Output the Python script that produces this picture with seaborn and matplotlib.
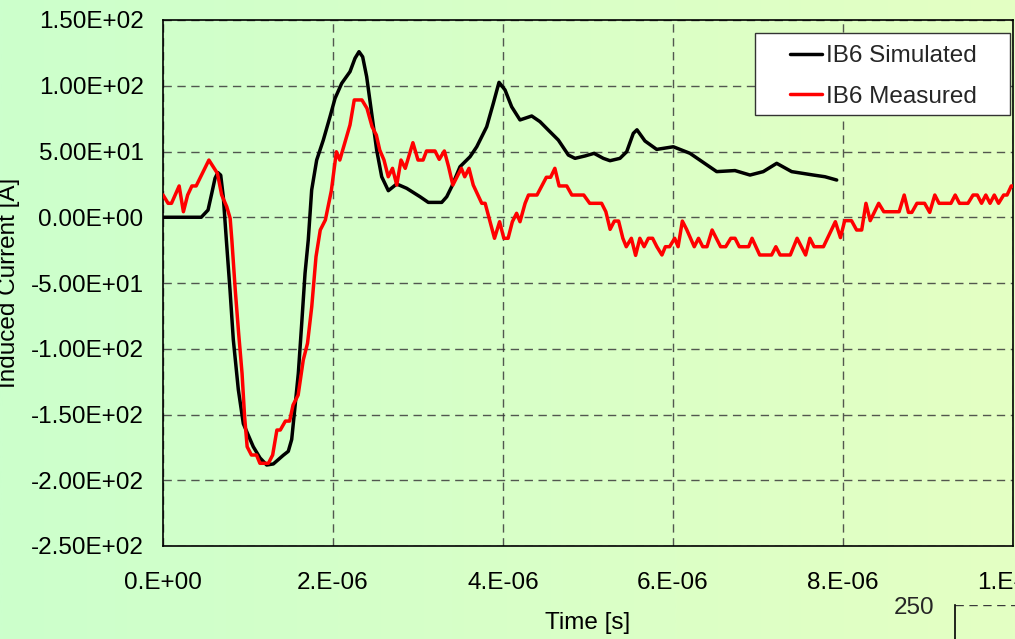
import numpy as np
import pandas as pd
import matplotlib
matplotlib.use("Agg")
import matplotlib.pyplot as plt
import seaborn as sns
from matplotlib.ticker import MultipleLocator, FixedLocator, FixedFormatter
from matplotlib.colors import LinearSegmentedColormap
from matplotlib.patches import Rectangle

# ---- data (time in microseconds, current in amperes) ----
sim_time_us = [
    0.00, 0.45, 0.53, 0.573, 0.612, 0.645, 0.679, 0.71, 0.745, 0.788,
    0.827, 0.886, 0.945, 1.062, 1.141, 1.22, 1.298, 1.415, 1.474, 1.514,
    1.553, 1.592, 1.632, 1.671, 1.709, 1.749, 1.808, 1.886, 1.965, 2.024,
    2.102, 2.20, 2.259, 2.306, 2.349, 2.396, 2.455, 2.514, 2.573, 2.651,
    2.749, 2.867, 3.024, 3.121, 3.279, 3.338, 3.396, 3.494, 3.612, 3.691,
    3.808, 3.886, 3.953, 4.024, 4.102, 4.20, 4.338, 4.435, 4.533, 4.651,
    4.769, 4.847, 4.965, 5.071, 5.18, 5.259, 5.376, 5.455, 5.533, 5.576,
    5.67, 5.808, 6.004, 6.20, 6.514, 6.729, 6.906, 7.062, 7.22, 7.396,
    7.651, 7.788, 7.926]
sim_current = [
    0.0, 0.0, 5.5, 18.0, 29.6, 34.0, 32.0, 15.0, -17.0, -55.0,
    -93.0, -131.0, -157.0, -174.5, -183.0, -188.4, -187.6, -181.0, -178.0, -169.0,
    -144.0, -118.7, -80.7, -42.6, -17.3, 20.7, 43.5, 58.7, 76.5, 90.4,
    101.8, 110.7, 120.9, 125.9, 122.0, 106.9, 79.0, 51.0, 30.8, 20.2,
    25.3, 22.0, 15.6, 11.3, 11.3, 15.6, 23.2, 38.4, 46.0, 53.6,
    68.8, 86.6, 102.6, 96.8, 84.0, 74.0, 77.0, 72.7, 66.3, 58.7,
    47.3, 44.8, 46.6, 48.6, 44.8, 43.0, 44.8, 49.8, 63.8, 66.5,
    58.0, 51.6, 53.6, 48.6, 34.7, 35.5, 32.1, 34.7, 41.0, 34.7,
    32.1, 30.8, 28.3]

meas_time_us = [
    0.00, 0.06, 0.10, 0.19, 0.24, 0.29, 0.34, 0.39, 0.54, 0.64,
    0.69, 0.75, 0.79, 0.81, 0.85, 0.89, 0.93, 0.96, 0.99, 1.04,
    1.10, 1.14, 1.24, 1.29, 1.34, 1.38, 1.44, 1.49, 1.53, 1.59,
    1.65, 1.70, 1.75, 1.80, 1.85, 1.91, 1.98, 2.04, 2.08, 2.20,
    2.25, 2.34, 2.40, 2.46, 2.51, 2.55, 2.60, 2.65, 2.70, 2.75,
    2.80, 2.85, 2.94, 3.00, 3.06, 3.10, 3.20, 3.25, 3.31, 3.36,
    3.41, 3.46, 3.51, 3.55, 3.60, 3.65, 3.75, 3.79, 3.90, 3.96,
    4.01, 4.06, 4.11, 4.16, 4.20, 4.26, 4.30, 4.40, 4.51, 4.56,
    4.61, 4.66, 4.75, 4.81, 4.95, 5.02, 5.16, 5.21, 5.26, 5.31,
    5.36, 5.41, 5.45, 5.51, 5.56, 5.61, 5.66, 5.71, 5.76, 5.81,
    5.87, 5.91, 5.96, 6.02, 6.06, 6.11, 6.16, 6.25, 6.30, 6.35,
    6.40, 6.46, 6.51, 6.56, 6.62, 6.68, 6.73, 6.78, 6.89, 6.93,
    7.02, 7.16, 7.21, 7.26, 7.38, 7.46, 7.51, 7.56, 7.61, 7.66,
    7.77, 7.91, 7.97, 8.02, 8.10, 8.16, 8.22, 8.27, 8.32, 8.42,
    8.48, 8.66, 8.72, 8.77, 8.81, 8.87, 8.96, 9.02, 9.08, 9.13,
    9.27, 9.32, 9.37, 9.47, 9.53, 9.58, 9.63, 9.68, 9.73, 9.78,
    9.83, 9.89, 9.93, 9.98, 10.0]
meas_current = [
    17.0, 10.6, 10.6, 23.8, 4.2, 16.9, 23.8, 23.8, 43.5, 33.4,
    17.0, 8.0, -0.8, -17.3, -55.3, -88.3, -118.7, -151.7, -174.5, -180.8,
    -180.8, -187.1, -187.1, -180.8, -161.8, -161.8, -155.0, -155.0, -142.8, -135.2,
    -108.6, -95.9, -68.0, -30.0, -9.7, -2.1, 20.0, 49.8, 43.5, 70.2,
    89.2, 89.2, 82.8, 68.8, 62.5, 51.1, 43.5, 30.8, 37.2, 24.5,
    43.5, 37.2, 56.7, 43.5, 43.5, 50.4, 50.4, 44.0, 50.4, 38.4,
    24.5, 30.8, 37.2, 30.8, 37.2, 24.5, 10.6, 10.6, -16.0, -3.4,
    -16.0, -16.0, -3.4, 3.0, -3.4, 10.6, 16.9, 16.9, 30.4, 30.4,
    37.2, 23.8, 23.8, 16.9, 16.9, 10.6, 10.6, 4.2, -9.2, -2.9,
    -2.9, -16.0, -22.4, -16.0, -29.0, -16.0, -22.4, -16.0, -16.0, -22.4,
    -28.7, -22.4, -22.4, -16.0, -22.4, -2.9, -9.2, -22.4, -16.0, -22.4,
    -22.4, -9.7, -16.0, -22.4, -22.4, -16.0, -16.0, -22.4, -22.4, -16.0,
    -28.7, -28.7, -22.4, -28.7, -28.7, -16.0, -22.4, -28.7, -16.0, -22.4,
    -22.4, -3.4, -15.5, -2.6, -2.6, -9.7, -9.7, 10.6, -2.6, 10.6,
    4.2, 4.2, 16.9, 3.7, 3.7, 10.6, 10.6, 3.7, 16.9, 10.6,
    10.6, 16.9, 10.6, 10.6, 16.9, 16.9, 10.6, 16.9, 10.6, 16.9,
    10.6, 16.9, 16.9, 23.8, 23.8]

series_names = ["IB6 Simulated", "IB6 Measured"]
series_colors = ["black", "red"]

xtick_values = [0.0, 2e-6, 4e-6, 6e-6, 8e-6, 1e-5]
xtick_labels = ["0.E+00", "2.E-06", "4.E-06", "6.E-06", "8.E-06", "1.E-05"]
ytick_values = [150, 100, 50, 0, -50, -100, -150, -200, -250]
ytick_labels = ["1.50E+02", "1.00E+02", "5.00E+01", "0.00E+00", "-5.00E+01",
                "-1.00E+02", "-1.50E+02", "-2.00E+02", "-2.50E+02"]

# ---- long-form table for seaborn ----
df = pd.concat([
    pd.DataFrame({"Time": np.array(sim_time_us) * 1e-6, "Current": sim_current,
                  "Series": series_names[0]}),
    pd.DataFrame({"Time": np.array(meas_time_us) * 1e-6, "Current": meas_current,
                  "Series": series_names[1]}),
], ignore_index=True)

sns.set_theme(style="white")
plt.rcParams["font.family"] = ["Liberation Sans", "DejaVu Sans"]
FS = 17.5
LW = 2.5

W, H = 1015, 639
fig = plt.figure(figsize=(W / 100, H / 100), dpi=100)

# horizontal green -> yellow-green gradient behind everything
bg = fig.add_axes([0, 0, 1, 1], zorder=-10)
cmap = LinearSegmentedColormap.from_list("bg", ["#CCFFCC", "#E4FFC3"])
bg.imshow(np.linspace(0, 1, 512)[None, :], aspect="auto", cmap=cmap,
          extent=[0, 1, 0, 1])
bg.set_axis_off()

L, R, T, B = 163, 1013, 20, 546
ax = fig.add_axes([L / W, (H - B) / H, (R - L) / W, (B - T) / H])
ax.set_facecolor("none")

sns.lineplot(data=df, x="Time", y="Current", hue="Series",
             palette=dict(zip(series_names, series_colors)),
             estimator=None, sort=False, linewidth=LW, ax=ax, legend=False,
             zorder=3)

ax.set_xlim(0, 1e-5)
ax.set_ylim(-250, 150)

ax.xaxis.set_major_locator(FixedLocator(xtick_values))
ax.xaxis.set_major_formatter(FixedFormatter(xtick_labels))
ax.xaxis.set_minor_locator(MultipleLocator(1e-6))
ax.yaxis.set_major_locator(FixedLocator(ytick_values))
ax.yaxis.set_major_formatter(FixedFormatter(ytick_labels))
ax.yaxis.set_minor_locator(MultipleLocator(10))

ax.tick_params(axis="both", which="both", direction="in", length=4,
               width=1, color="black", labelsize=FS, labelcolor="black")
ax.tick_params(axis="x", which="both", pad=18.5)
ax.tick_params(axis="y", which="both", pad=14)

for side in ["left", "bottom", "top", "right"]:
    ax.spines[side].set_visible(True)
    ax.spines[side].set_color("black")
    ax.spines[side].set_linewidth(1.2)

ax.grid(True, which="major", axis="both", color="#3a3a3a", alpha=0.85,
        linestyle=(0, (6, 4)), linewidth=1.0, zorder=1)

ax.set_xlabel("Time [s]", fontsize=FS, color="black")
ax.set_ylabel("Induced Current [A]", fontsize=FS, color="black")
ax.xaxis.set_label_coords(0.5, -0.126)
ax.yaxis.set_label_coords(-0.168, 0.5)

# legend box
lx0, ly0, lx1, ly1 = 755, 33, 1010, 115
fig.patches.append(Rectangle((lx0 / W, 1 - ly1 / H), (lx1 - lx0) / W,
                             (ly1 - ly0) / H, transform=fig.transFigure,
                             facecolor="white", edgecolor="#333333",
                             linewidth=1.0, zorder=5))
handles = [plt.Line2D([], [], color=c, linewidth=LW) for c in series_colors]
leg = fig.legend(handles, series_names, loc="upper left",
                 bbox_to_anchor=(790 / W, 1 - 45 / H),
                 bbox_transform=fig.transFigure, frameon=False, fontsize=FS,
                 handlelength=1.3, handletextpad=0.2, labelspacing=0.78,
                 borderpad=0, borderaxespad=0)
leg.set_zorder(6)

# neighbouring panel peeking in at the lower right
ax2 = fig.add_axes([955 / W, (H - 605 - 84) / H, 0.3, 84 / H])
ax2.set_facecolor("none")
ax2.set_ylim(200, 250)
ax2.set_xlim(0, 1)
ax2.yaxis.set_major_locator(FixedLocator([250]))
ax2.yaxis.set_major_formatter(FixedFormatter(["250"]))
ax2.yaxis.set_minor_locator(MultipleLocator(10))
ax2.set_xticks([])
ax2.tick_params(axis="y", which="both", direction="in", length=4, width=1,
                color="black", labelsize=FS, pad=15)
for side in ["right", "bottom", "top"]:
    ax2.spines[side].set_visible(False)
ax2.spines["left"].set_color("black")
ax2.spines["left"].set_linewidth(1.2)
ax2.axhline(250, color="#3a3a3a", linestyle=(0, (6, 4)), linewidth=1.0)

fig.savefig("out.png", dpi=100)
